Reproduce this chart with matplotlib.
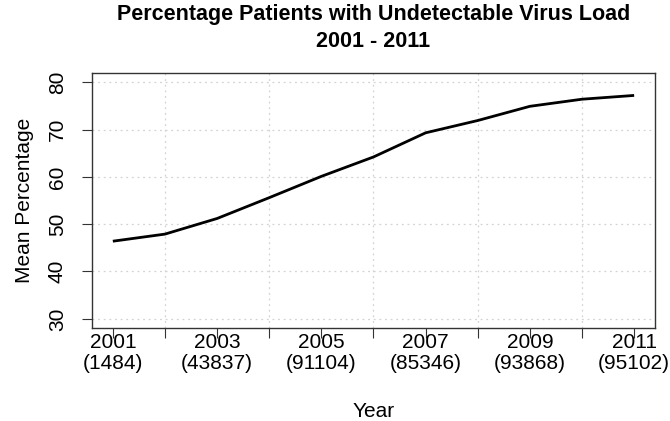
import matplotlib
matplotlib.use("Agg")
import matplotlib.pyplot as plt
import matplotlib.ticker as mticker

plt.rcParams['font.family'] = ['Liberation Sans', 'DejaVu Sans']

years = [2001, 2002, 2003, 2004, 2005, 2006, 2007, 2008, 2009, 2010, 2011]
mean_pct = [46.4, 47.9, 51.2, 55.6, 60.1, 64.2, 69.3, 71.9, 74.9, 76.4, 77.2]
label_years = [2001, 2003, 2005, 2007, 2009, 2011]
patients = [1484, 43837, 91104, 85346, 93868, 95102]
grid_years = [2002, 2004, 2006, 2008, 2010]
y_ticks = [30, 40, 50, 60, 70, 80]

fig = plt.figure(figsize=(6.7, 4.21), dpi=100)
ax = fig.add_axes([0.1373, 0.2202, 0.8403, 0.6071])

ax.plot(years, mean_pct, color='black', linewidth=2, solid_capstyle='butt')

ax.set_xlim(2000.6, 2011.4)
ax.set_ylim(28, 82)

# major ticks carry the two-line labels, minor ticks carry the grid
ax.xaxis.set_major_locator(mticker.FixedLocator(label_years))
ax.set_xticklabels(["%d\n(%d)" % (y, n) for y, n in zip(label_years, patients)])
ax.xaxis.set_minor_locator(mticker.FixedLocator(grid_years))
ax.set_yticks(y_ticks)

ax.tick_params(axis='both', which='both', direction='out', length=7.5,
               width=0.8, color='#333333', labelsize=15)
ax.tick_params(axis='x', which='major', pad=-4)
ax.tick_params(axis='y', which='major', pad=10.5)
for lab in ax.get_yticklabels():
    lab.set_rotation(90)
    lab.set_va('center')
for lab in ax.get_xticklabels():
    lab.set_linespacing(1.1)

ax.grid(True, which='minor', axis='x', color='#d3d3d3', linestyle=(0, (1.5, 3)), linewidth=0.9)
ax.grid(True, which='major', axis='y', color='#d3d3d3', linestyle=(0, (1.5, 3)), linewidth=0.9)
ax.set_axisbelow(True)

for sp in ax.spines.values():
    sp.set_color('#333333')
    sp.set_linewidth(1.0)

ax.set_xlabel("Year", fontsize=15, labelpad=21)
ax.set_ylabel("Mean Percentage", fontsize=15, labelpad=10)
ax.set_title("Percentage Patients with Undetectable Virus Load\n2001 - 2011",
             fontsize=15.5, fontweight='bold', pad=18.5, linespacing=1.35)

fig.savefig("out.png", dpi=100)
